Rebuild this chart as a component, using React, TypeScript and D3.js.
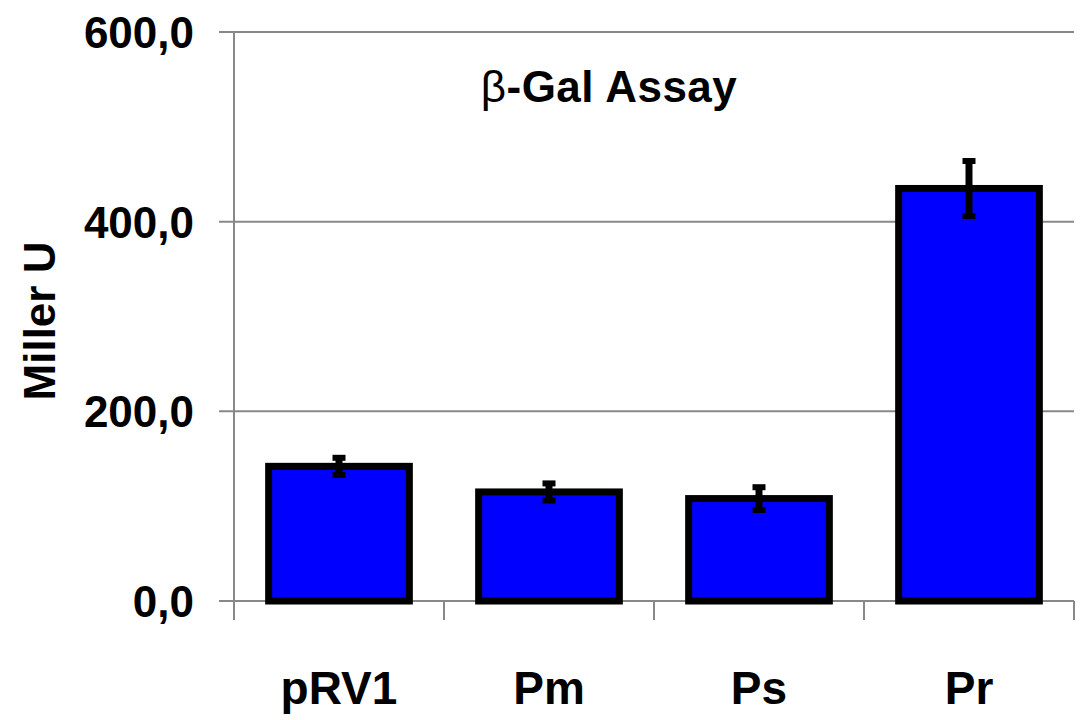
import React from "react";
import * as d3 from "d3";

const categories = ["pRV1", "Pm", "Ps", "Pr"];
const values = [142, 115, 108, 435];
const errors = [9, 9, 12, 29];
const yTicks = [0, 200, 400, 600];
const yTickLabels = ["0,0", "200,0", "400,0", "600,0"];

const W = 1082;
const H = 720;
const left = 234;
const right = 1074;
const top = 32;
const bottom = 601;

export default function App() {
  const x = d3.scaleBand<string>().domain(categories).range([left, right]).paddingInner(0.33).paddingOuter(0.165);
  const band = d3.scaleBand<string>().domain(categories).range([left, right]);
  const y = d3.scaleLinear().domain([0, 600]).range([bottom, top]);
  const font = "'Liberation Sans', Arial, sans-serif";
  const grid = "#888888";
  return (
    <svg width={W} height={H} style={{ position: "absolute", left: 0, top: 0, background: "#fff" }}>
      {yTicks.map((t, i) => (
        <g key={t}>
          <line x1={left - 15} x2={right} y1={y(t)} y2={y(t)} stroke={grid} strokeWidth={2} />
          <text x={194} y={y(t)} dy="0.36em" textAnchor="end" fontFamily={font} fontWeight="bold" fontSize={44} fill="#000">
            {yTickLabels[i]}
          </text>
        </g>
      ))}
      <line x1={left} x2={left} y1={top} y2={bottom + 19} stroke={grid} strokeWidth={2} />
      {categories.map((c) => (
        <line key={c} x1={(band(c) as number) + band.bandwidth()} x2={(band(c) as number) + band.bandwidth()} y1={bottom} y2={bottom + 19} stroke={grid} strokeWidth={2} />
      ))}
      {categories.map((c, i) => {
        const bx = x(c) as number;
        const cx = bx + x.bandwidth() / 2;
        const yv = y(values[i]);
        const y1 = y(values[i] + errors[i]);
        const y2 = y(values[i] - errors[i]);
        return (
          <g key={c}>
            <rect x={bx} y={yv} width={x.bandwidth()} height={bottom - yv} fill="#0000FF" stroke="#000" strokeWidth={7} />
            <line x1={cx} x2={cx} y1={y1} y2={y2} stroke="#000" strokeWidth={7} />
            <line x1={cx - 6.5} x2={cx + 6.5} y1={y1} y2={y1} stroke="#000" strokeWidth={6} />
            <line x1={cx - 6.5} x2={cx + 6.5} y1={y2} y2={y2} stroke="#000" strokeWidth={6} />
            <text x={cx} y={704} textAnchor="middle" fontFamily={font} fontWeight="bold" fontSize={46} fill="#000">
              {c}
            </text>
          </g>
        );
      })}
      <text x={609} y={102} textAnchor="middle" fontFamily={font} fontWeight="bold" fontSize={44} letterSpacing={0.5} fill="#000">
        <tspan fontWeight="normal">β</tspan>-Gal Assay
      </text>
      <text transform={`translate(55,321) rotate(-90)`} textAnchor="middle" fontFamily={font} fontWeight="bold" fontSize={44} fill="#000">
        Miller U
      </text>
    </svg>
  );
}
